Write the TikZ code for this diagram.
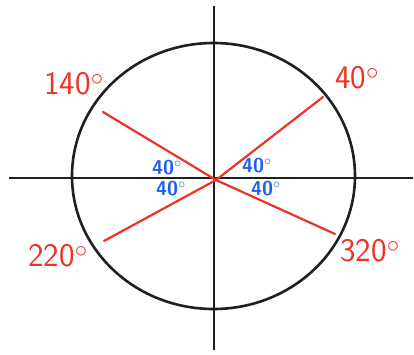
\documentclass[tikz,border=0pt]{standalone}
\usepackage{tikz}
\usetikzlibrary{positioning,calc}
\definecolor{penred}{RGB}{236,52,38}
\definecolor{penblue}{RGB}{30,95,240}

\begin{document}
\begin{tikzpicture}[x=1pt,y=-1pt,
    axis/.style={black!88, line width=2.8pt},
    ring/.style={black!88, line width=2.6pt},
    ray/.style={penred, line width=2.2pt, line cap=round},
    deglab/.style={penred, font=\sffamily\fontsize{33}{33}\selectfont, inner sep=0pt},
    anglab/.style={penblue, font=\sffamily\bfseries\fontsize{20}{20}\selectfont, inner sep=0pt}]
    \useasboundingbox (0,0) rectangle (414,354);

    % Eixos
    \coordinate (W) at (9,178);
    \coordinate (E) at (413,178);
    \coordinate (N) at (214,6);
    \coordinate (S) at (214,350);
    \draw[axis] (W) -- (E);
    \draw[axis] (N) -- (S);

    % Circulo
    \draw[ring] (213.5,176) ellipse [x radius=141.5, y radius=133];

    % Raios
    \coordinate (o) at (216,180);
    \coordinate (a40) at (323,97);
    \coordinate (a140) at (103,112);
    \coordinate (a220) at (104,241);
    \coordinate (a320) at (335,234);
    \draw[ray] (o) -- (a40);
    \draw[ray] (o) -- (a140);
    \draw[ray] (o) -- (a220);
    \draw[ray] (o) -- (a320);

    % Angulos
    \node[deglab] (l40) at (357,78) {40$^\circ$};
    \node[deglab] (l140) at (74,84) {140$^\circ$};
    \node[deglab] (l220) at (58,256) {220$^\circ$};
    \node[deglab] (l320) at (370,251) {320$^\circ$};

    \node[anglab] (b1) at (167,168) {40$^\circ$};
    \node[anglab] (b2) at (171,189) {40$^\circ$};
    \node[anglab] (b3) at (257,166) {40$^\circ$};
    \node[anglab] (b4) at (266,189) {40$^\circ$};
\end{tikzpicture}
\end{document}
